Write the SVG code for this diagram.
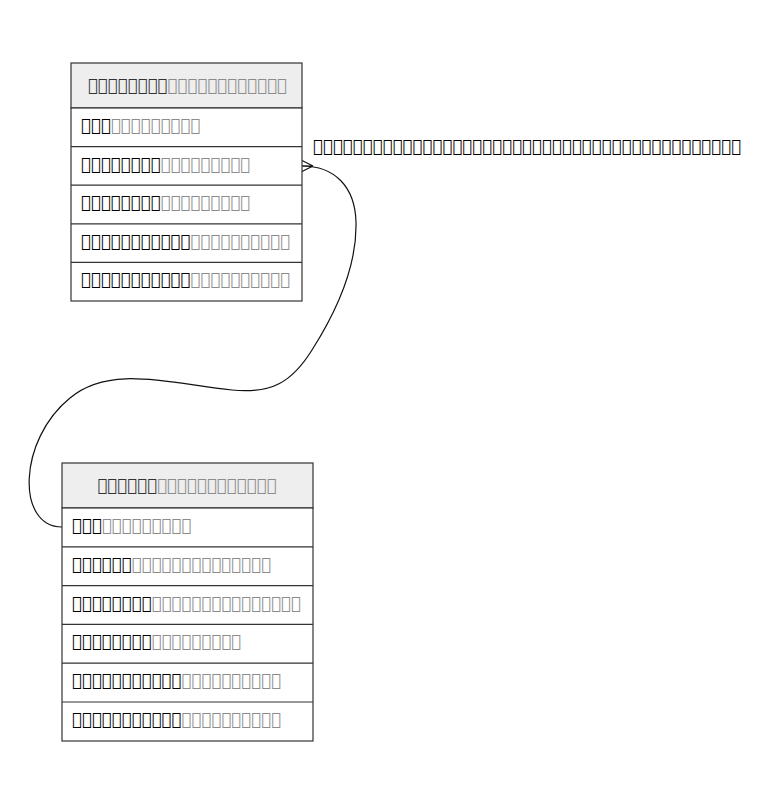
<svg xmlns="http://www.w3.org/2000/svg" width="757" height="804" viewBox="0 0 757 804">
  <style>
    .box { fill: #ffffff; stroke: #333333; stroke-width: 1.2; }
    .head { fill: #eeeeee; stroke: #333333; stroke-width: 1.2; }
    .sep { stroke: #333333; stroke-width: 1.2; }
    text { font-family: "DejaVu Sans", "Noto Sans", sans-serif; font-size: 16.6px; fill: #000000; }
    .hname { fill: #333333; }
    .type { fill: #8c8c8c; }
    .edge { fill: none; stroke: #111111; stroke-width: 1.2; }
  </style>

  <rect width="757" height="804" fill="#ffffff"/>

  <!-- relation between the two tables -->
  <g id="connectors">
    <path class="edge" d="M62,527 C16,527 18,440 70,398 C110,364 172,384 232,390 C272,394 292,382 312,350 C340,306 357,262 356,222 C355,186 334,166 302,166"/>
    <path class="edge" d="M313,166 L301,160 M313,166 L301,166 M313,166 L301,172"/>
    <text x="313" y="152">&#xE000;&#xE000;&#xE000;&#xE000;&#xE000;&#xE000;&#xE000;&#xE000;&#xE000;&#xE000;&#xE000;&#xE000;&#xE000;&#xE000;&#xE000;&#xE000;&#xE000;&#xE000;&#xE000;&#xE000;&#xE000;&#xE000;&#xE000;&#xE000;&#xE000;&#xE000;&#xE000;&#xE000;&#xE000;&#xE000;&#xE000;&#xE000;&#xE000;&#xE000;&#xE000;&#xE000;&#xE000;&#xE000;&#xE000;&#xE000;&#xE000;&#xE000;&#xE000;</text>
  </g>

  <!-- upper table -->
  <g id="table-1">
    <rect class="head" x="71" y="63" width="231" height="45"/>
    <rect class="box" x="71" y="108" width="231" height="193"/>
    <line class="sep" x1="71" y1="146.6" x2="302" y2="146.6"/>
    <line class="sep" x1="71" y1="185.2" x2="302" y2="185.2"/>
    <line class="sep" x1="71" y1="223.8" x2="302" y2="223.8"/>
    <line class="sep" x1="71" y1="262.4" x2="302" y2="262.4"/>
    <text x="187.5" y="91" text-anchor="middle"><tspan class="hname">&#xE000;&#xE000;&#xE000;&#xE000;&#xE000;&#xE000;&#xE000;&#xE000;</tspan><tspan class="type">&#xE000;&#xE000;&#xE000;&#xE000;&#xE000;&#xE000;&#xE000;&#xE000;&#xE000;&#xE000;&#xE000;&#xE000;</tspan></text>
    <text x="81" y="131">&#xE000;&#xE000;&#xE000;<tspan class="type">&#xE000;&#xE000;&#xE000;&#xE000;&#xE000;&#xE000;&#xE000;&#xE000;&#xE000;</tspan></text>
    <text x="81" y="170">&#xE000;&#xE000;&#xE000;&#xE000;&#xE000;&#xE000;&#xE000;&#xE000;<tspan class="type">&#xE000;&#xE000;&#xE000;&#xE000;&#xE000;&#xE000;&#xE000;&#xE000;&#xE000;</tspan></text>
    <text x="81" y="208">&#xE000;&#xE000;&#xE000;&#xE000;&#xE000;&#xE000;&#xE000;&#xE000;<tspan class="type">&#xE000;&#xE000;&#xE000;&#xE000;&#xE000;&#xE000;&#xE000;&#xE000;&#xE000;</tspan></text>
    <text x="81" y="247">&#xE000;&#xE000;&#xE000;&#xE000;&#xE000;&#xE000;&#xE000;&#xE000;&#xE000;&#xE000;&#xE000;<tspan class="type">&#xE000;&#xE000;&#xE000;&#xE000;&#xE000;&#xE000;&#xE000;&#xE000;&#xE000;&#xE000;</tspan></text>
    <text x="81" y="285">&#xE000;&#xE000;&#xE000;&#xE000;&#xE000;&#xE000;&#xE000;&#xE000;&#xE000;&#xE000;&#xE000;<tspan class="type">&#xE000;&#xE000;&#xE000;&#xE000;&#xE000;&#xE000;&#xE000;&#xE000;&#xE000;&#xE000;</tspan></text>
  </g>

  <!-- lower table -->
  <g id="table-2">
    <rect class="head" x="62" y="463" width="251" height="45"/>
    <rect class="box" x="62" y="508" width="251" height="233"/>
    <line class="sep" x1="62" y1="546.8" x2="313" y2="546.8"/>
    <line class="sep" x1="62" y1="585.6" x2="313" y2="585.6"/>
    <line class="sep" x1="62" y1="624.4" x2="313" y2="624.4"/>
    <line class="sep" x1="62" y1="663.2" x2="313" y2="663.2"/>
    <line class="sep" x1="62" y1="702" x2="313" y2="702"/>
    <text x="187" y="491" text-anchor="middle"><tspan class="hname">&#xE000;&#xE000;&#xE000;&#xE000;&#xE000;&#xE000;</tspan><tspan class="type">&#xE000;&#xE000;&#xE000;&#xE000;&#xE000;&#xE000;&#xE000;&#xE000;&#xE000;&#xE000;&#xE000;&#xE000;</tspan></text>
    <text x="72" y="531">&#xE000;&#xE000;&#xE000;<tspan class="type">&#xE000;&#xE000;&#xE000;&#xE000;&#xE000;&#xE000;&#xE000;&#xE000;&#xE000;</tspan></text>
    <text x="72" y="570">&#xE000;&#xE000;&#xE000;&#xE000;&#xE000;&#xE000;<tspan class="type">&#xE000;&#xE000;&#xE000;&#xE000;&#xE000;&#xE000;&#xE000;&#xE000;&#xE000;&#xE000;&#xE000;&#xE000;&#xE000;&#xE000;</tspan></text>
    <text x="72" y="609">&#xE000;&#xE000;&#xE000;&#xE000;&#xE000;&#xE000;&#xE000;&#xE000;<tspan class="type">&#xE000;&#xE000;&#xE000;&#xE000;&#xE000;&#xE000;&#xE000;&#xE000;&#xE000;&#xE000;&#xE000;&#xE000;&#xE000;&#xE000;&#xE000;</tspan></text>
    <text x="72" y="647">&#xE000;&#xE000;&#xE000;&#xE000;&#xE000;&#xE000;&#xE000;&#xE000;<tspan class="type">&#xE000;&#xE000;&#xE000;&#xE000;&#xE000;&#xE000;&#xE000;&#xE000;&#xE000;</tspan></text>
    <text x="72" y="686">&#xE000;&#xE000;&#xE000;&#xE000;&#xE000;&#xE000;&#xE000;&#xE000;&#xE000;&#xE000;&#xE000;<tspan class="type">&#xE000;&#xE000;&#xE000;&#xE000;&#xE000;&#xE000;&#xE000;&#xE000;&#xE000;&#xE000;</tspan></text>
    <text x="72" y="725">&#xE000;&#xE000;&#xE000;&#xE000;&#xE000;&#xE000;&#xE000;&#xE000;&#xE000;&#xE000;&#xE000;<tspan class="type">&#xE000;&#xE000;&#xE000;&#xE000;&#xE000;&#xE000;&#xE000;&#xE000;&#xE000;&#xE000;</tspan></text>
  </g>
</svg>
